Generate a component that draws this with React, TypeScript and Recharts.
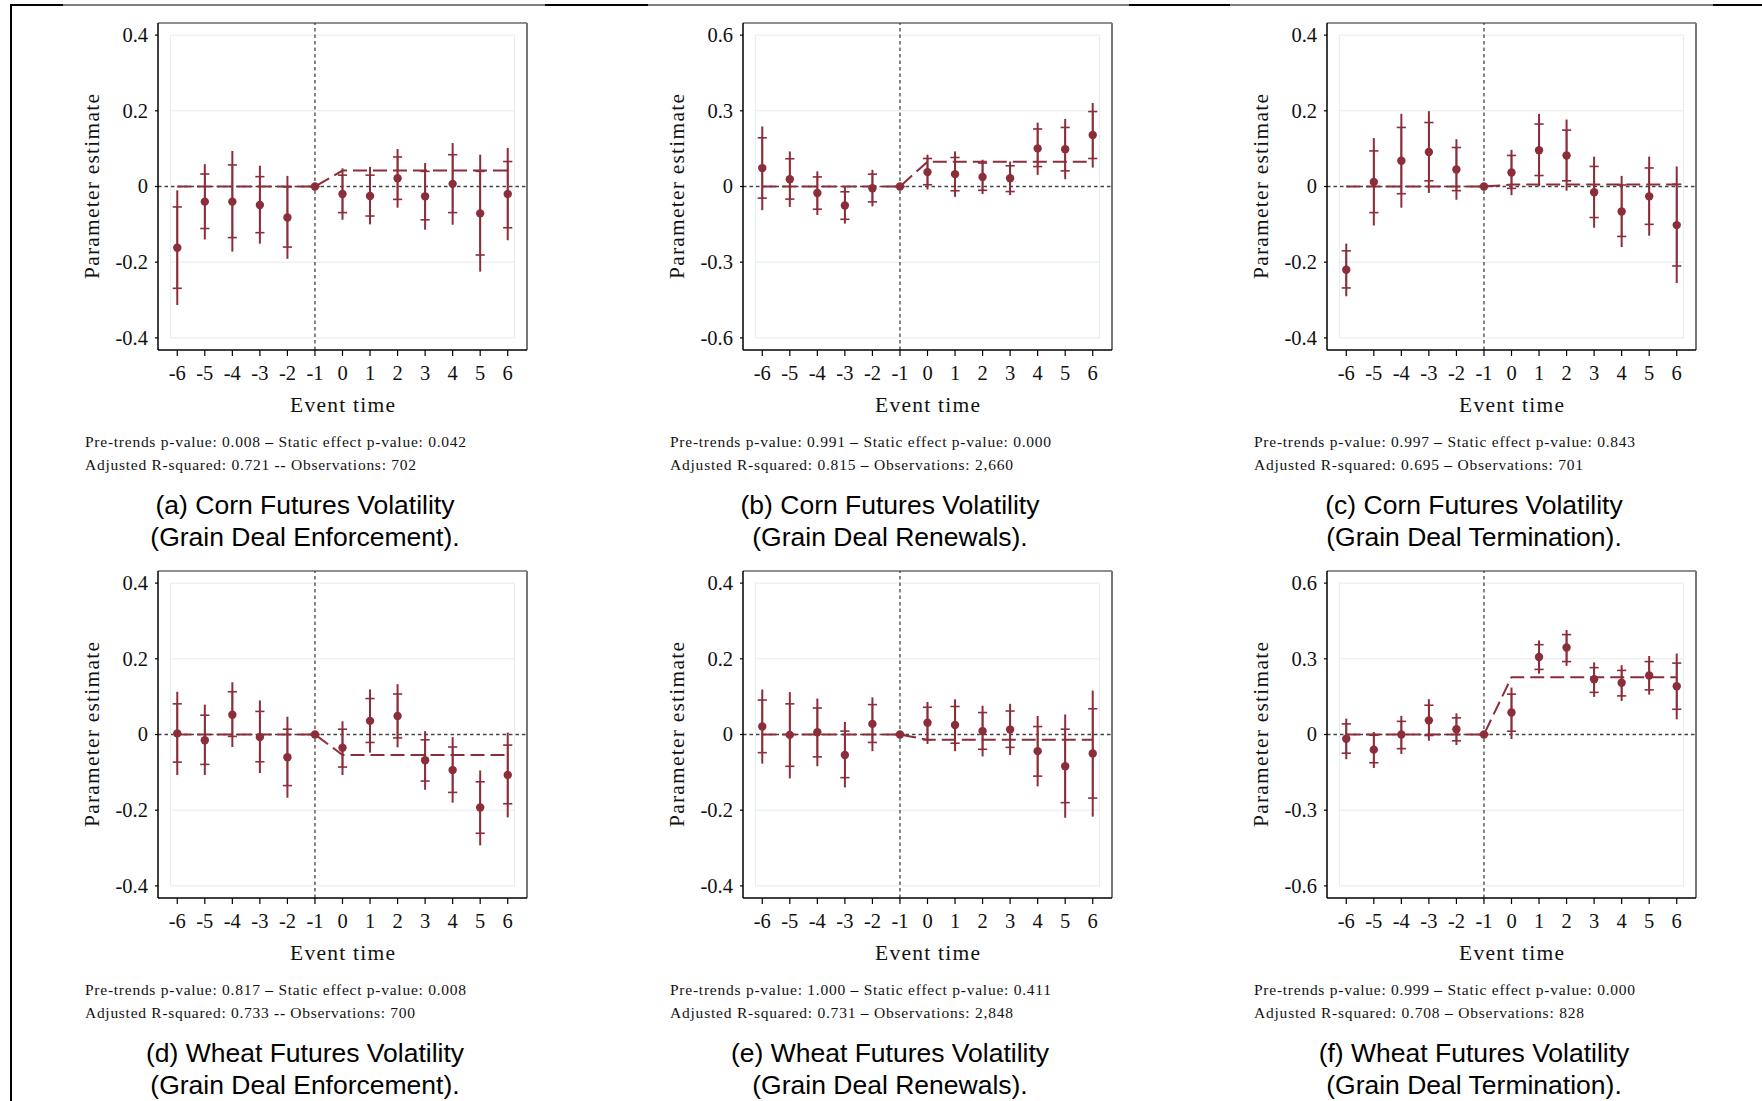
import React from 'react';
import {
  ComposedChart,
  XAxis,
  YAxis,
  Scatter,
  Line,
  ErrorBar,
  ReferenceLine,
  ReferenceArea,
  Label,
} from 'recharts';

// ---------------- DATA ----------------
const EVENT_TIME = [-6, -5, -4, -3, -2, -1, 0, 1, 2, 3, 4, 5, 6];
const TICKS_SMALL = [-0.4, -0.2, 0, 0.2, 0.4];
const TICKS_LARGE = [-0.6, -0.3, 0, 0.3, 0.6];

// (a) Corn – Enforcement
const A_EST = [-0.162, -0.04, -0.04, -0.049, -0.082, 0, -0.02, -0.025, 0.022, -0.026, 0.007, -0.071, -0.02];
const A_LO95 = [-0.313, -0.14, -0.172, -0.151, -0.191, 0, -0.088, -0.1, -0.056, -0.114, -0.101, -0.225, -0.142];
const A_HI95 = [-0.01, 0.059, 0.094, 0.055, 0.028, 0, 0.048, 0.052, 0.099, 0.062, 0.115, 0.084, 0.102];
const A_LO90 = [-0.269, -0.111, -0.135, -0.122, -0.16, 0, -0.069, -0.078, -0.034, -0.088, -0.069, -0.181, -0.109];
const A_HI90 = [-0.054, 0.033, 0.057, 0.026, -0.001, 0, 0.03, 0.03, 0.078, 0.04, 0.084, 0.04, 0.066];
const A_STATIC = 0.042;

// (b) Corn – Renewals
const B_EST = [0.073, 0.029, -0.026, -0.075, -0.007, 0, 0.057, 0.049, 0.038, 0.033, 0.151, 0.148, 0.204];
const B_LO95 = [-0.094, -0.081, -0.113, -0.147, -0.079, 0, -0.012, -0.041, -0.03, -0.034, 0.046, 0.029, 0.075];
const B_HI95 = [0.238, 0.139, 0.06, -0.001, 0.066, 0, 0.126, 0.139, 0.106, 0.099, 0.253, 0.268, 0.331];
const B_LO90 = [-0.046, -0.05, -0.09, -0.13, -0.061, 0, 0.007, -0.017, -0.015, -0.02, 0.079, 0.062, 0.111];
const B_HI90 = [0.193, 0.11, 0.038, -0.021, 0.049, 0, 0.111, 0.115, 0.093, 0.082, 0.228, 0.234, 0.297];
const B_STATIC = 0.098;

// (c) Corn – Termination
const C_EST = [-0.22, 0.012, 0.068, 0.091, 0.045, 0, 0.037, 0.096, 0.082, -0.015, -0.066, -0.026, -0.102];
const C_LO95 = [-0.29, -0.103, -0.056, -0.017, -0.035, 0, -0.023, 0.001, -0.011, -0.109, -0.16, -0.13, -0.255];
const C_HI95 = [-0.151, 0.128, 0.192, 0.199, 0.125, 0, 0.097, 0.192, 0.177, 0.079, 0.028, 0.079, 0.053];
const C_LO90 = [-0.268, -0.069, -0.019, 0.015, -0.011, 0, -0.005, 0.029, 0.015, -0.082, -0.132, -0.1, -0.21];
const C_HI90 = [-0.17, 0.094, 0.156, 0.169, 0.103, 0, 0.082, 0.165, 0.149, 0.053, 0.004, 0.049, 0.006];
const C_STATIC = 0.005;

// (d) Wheat – Enforcement
const D_EST = [0.003, -0.015, 0.052, -0.007, -0.06, 0, -0.035, 0.036, 0.049, -0.068, -0.094, -0.193, -0.107];
const D_LO95 = [-0.107, -0.107, -0.033, -0.102, -0.167, 0, -0.107, -0.048, -0.034, -0.146, -0.18, -0.293, -0.219];
const D_HI95 = [0.113, 0.079, 0.138, 0.09, 0.047, 0, 0.035, 0.119, 0.133, 0.009, -0.007, -0.095, 0.005];
const D_LO90 = [-0.073, -0.079, -0.005, -0.072, -0.135, 0, -0.086, -0.021, -0.009, -0.123, -0.153, -0.261, -0.183];
const D_HI90 = [0.081, 0.051, 0.113, 0.061, 0.014, 0, 0.014, 0.095, 0.107, -0.014, -0.033, -0.125, -0.028];
const D_STATIC = -0.054;

// (e) Wheat – Renewals
const E_EST = [0.021, -0.001, 0.006, -0.054, 0.028, 0, 0.031, 0.025, 0.009, 0.013, -0.044, -0.084, -0.05];
const E_LO95 = [-0.077, -0.116, -0.084, -0.14, -0.044, 0, -0.025, -0.044, -0.058, -0.054, -0.137, -0.22, -0.217];
const E_HI95 = [0.119, 0.112, 0.095, 0.033, 0.098, 0, 0.086, 0.093, 0.076, 0.081, 0.049, 0.053, 0.116];
const E_LO90 = [-0.048, -0.084, -0.059, -0.114, -0.021, 0, -0.014, -0.023, -0.039, -0.034, -0.11, -0.18, -0.168];
const E_HI90 = [0.091, 0.081, 0.07, 0.009, 0.079, 0, 0.072, 0.074, 0.058, 0.062, 0.021, 0.014, 0.068];
const E_STATIC = -0.014;

// (f) Wheat – Termination
const F_EST = [-0.017, -0.06, 0.0, 0.056, 0.021, 0, 0.087, 0.307, 0.345, 0.219, 0.205, 0.234, 0.191];
const F_LO95 = [-0.098, -0.133, -0.077, -0.025, -0.042, 0, -0.018, 0.241, 0.272, 0.149, 0.133, 0.158, 0.06];
const F_HI95 = [0.063, 0.01, 0.074, 0.14, 0.084, 0, 0.186, 0.373, 0.414, 0.286, 0.275, 0.311, 0.321];
const F_LO90 = [-0.074, -0.112, -0.056, -0.004, -0.025, 0, 0.013, 0.258, 0.289, 0.167, 0.153, 0.177, 0.1];
const F_HI90 = [0.042, -0.003, 0.052, 0.116, 0.066, 0, 0.16, 0.356, 0.396, 0.265, 0.254, 0.289, 0.283];
const F_STATIC = 0.227;

// notes: [left part, separator, right part] for each of the two lines
const NOTES_A = [['Pre-trends p-value: 0.008', '\u2013', 'Static effect p-value: 0.042'], ['Adjusted R-squared: 0.721', '--', 'Observations: 702']];
const NOTES_B = [['Pre-trends p-value: 0.991', '\u2013', 'Static effect p-value: 0.000'], ['Adjusted R-squared: 0.815', '\u2013', 'Observations: 2,660']];
const NOTES_C = [['Pre-trends p-value: 0.997', '\u2013', 'Static effect p-value: 0.843'], ['Adjusted R-squared: 0.695', '\u2013', 'Observations: 701']];
const NOTES_D = [['Pre-trends p-value: 0.817', '\u2013', 'Static effect p-value: 0.008'], ['Adjusted R-squared: 0.733', '--', 'Observations: 700']];
const NOTES_E = [['Pre-trends p-value: 1.000', '\u2013', 'Static effect p-value: 0.411'], ['Adjusted R-squared: 0.731', '\u2013', 'Observations: 2,848']];
const NOTES_F = [['Pre-trends p-value: 0.999', '\u2013', 'Static effect p-value: 0.000'], ['Adjusted R-squared: 0.708', '\u2013', 'Observations: 828']];

const CAPTION_A = ['(a) Corn Futures Volatility', '(Grain Deal Enforcement).'];
const CAPTION_B = ['(b) Corn Futures Volatility', '(Grain Deal Renewals).'];
const CAPTION_C = ['(c) Corn Futures Volatility', '(Grain Deal Termination).'];
const CAPTION_D = ['(d) Wheat Futures Volatility', '(Grain Deal Enforcement).'];
const CAPTION_E = ['(e) Wheat Futures Volatility', '(Grain Deal Renewals).'];
const CAPTION_F = ['(f) Wheat Futures Volatility', '(Grain Deal Termination).'];

// ---------------- STYLE / LAYOUT ----------------
const MAROON = '#8b2e3a';
const GRID = '#e3ecee';
const SERIF = '"Liberation Serif", "Times New Roman", serif';
const SANS = '"Liberation Sans", Arial, sans-serif';
const PLOT_W = 369;
const PLOT_H = 327;
const Y_AXIS_W = 80;
const X_AXIS_H = 70;
const M_TOP = 10;
const M_RIGHT = 10;
const COL_LEFT = [158, 743, 1327];
const ROW_TOP = [23, 571];

function buildRows(est: number[], lo95: number[], hi95: number[], lo90: number[], hi90: number[], stat: number) {
  return EVENT_TIME.map((x, i) => ({
    x,
    est: est[i],
    e95: [est[i] - lo95[i], hi95[i] - est[i]],
    e90: [est[i] - lo90[i], hi90[i] - est[i]],
    fit: x < 0 ? 0 : stat,
  }));
}

const PANELS = [
  { rows: buildRows(A_EST, A_LO95, A_HI95, A_LO90, A_HI90, A_STATIC), big: false, notes: NOTES_A, caption: CAPTION_A, col: 0, row: 0, w2: 331 },
  { rows: buildRows(B_EST, B_LO95, B_HI95, B_LO90, B_HI90, B_STATIC), big: true, notes: NOTES_B, caption: CAPTION_B, col: 1, row: 0, w2: 343 },
  { rows: buildRows(C_EST, C_LO95, C_HI95, C_LO90, C_HI90, C_STATIC), big: false, notes: NOTES_C, caption: CAPTION_C, col: 2, row: 0, w2: 329 },
  { rows: buildRows(D_EST, D_LO95, D_HI95, D_LO90, D_HI90, D_STATIC), big: false, notes: NOTES_D, caption: CAPTION_D, col: 0, row: 1, w2: 330 },
  { rows: buildRows(E_EST, E_LO95, E_HI95, E_LO90, E_HI90, E_STATIC), big: false, notes: NOTES_E, caption: CAPTION_E, col: 1, row: 1, w2: 343 },
  { rows: buildRows(F_EST, F_LO95, F_HI95, F_LO90, F_HI90, F_STATIC), big: true, notes: NOTES_F, caption: CAPTION_F, col: 2, row: 1, w2: 330 },
];

const fmtY = (v: number) => (v === 0 ? '0' : String(v));

const XTick = (props: any) => {
  const { x, y, payload } = props;
  return (
    <text x={x} y={y + 21.5} textAnchor="middle" fontFamily={SERIF} fontSize={20.5} fill="#111">
      {String(payload.value)}
    </text>
  );
};

const YTick = (props: any) => {
  const { x, y, payload } = props;
  return (
    <text x={x - 5} y={y + 6.9} textAnchor="end" fontFamily={SERIF} fontSize={20.5} fill="#111">
      {fmtY(payload.value)}
    </text>
  );
};

const XTitle = (props: any) => {
  const vb = props.viewBox || {};
  return (
    <text x={vb.x + vb.width / 2} y={vb.y + 61.5} textAnchor="middle" fontFamily={SERIF} fontSize={21.5} fill="#111" textLength={105} lengthAdjust="spacing">
      Event time
    </text>
  );
};

const YTitle = (props: any) => {
  const vb = props.viewBox || {};
  const cx = vb.x + 21.3;
  const cy = vb.y + vb.height / 2;
  return (
    <text x={cx} y={cy} transform={`rotate(-90, ${cx}, ${cy})`} textAnchor="middle" fontFamily={SERIF} fontSize={21.5} fill="#111" textLength={185} lengthAdjust="spacing">
      Parameter estimate
    </text>
  );
};

const Dot = (props: any) => <circle cx={props.cx} cy={props.cy} r={4.2} fill={MAROON} />;

function Panel({ p }: { p: any }) {
  const lim = p.big ? 0.6 : 0.4;
  const mid = p.big ? 0.3 : 0.2;
  const ymax = lim * 1.08;
  const left = COL_LEFT[p.col];
  const top = ROW_TOP[p.row];
  return (
    <div style={{ position: 'absolute', left: left - Y_AXIS_W, top: top - M_TOP }}>
      <ComposedChart
        width={Y_AXIS_W + PLOT_W + M_RIGHT}
        height={M_TOP + PLOT_H + X_AXIS_H}
        data={p.rows}
        margin={{ top: M_TOP, right: M_RIGHT, bottom: 0, left: 0 }}
      >
        <XAxis
          type="number"
          dataKey="x"
          domain={[-6.7, 6.7]}
          ticks={EVENT_TIME}
          interval={0}
          allowDataOverflow
          height={X_AXIS_H}
          tickSize={6}
          tickMargin={2}
          tick={XTick}
          axisLine={{ stroke: '#000', strokeWidth: 1.5 }}
          tickLine={{ stroke: '#000', strokeWidth: 1.2 }}
        >
          <Label content={XTitle} />
        </XAxis>
        <YAxis
          type="number"
          domain={[-ymax, ymax]}
          ticks={p.big ? TICKS_LARGE : TICKS_SMALL}
          interval={0}
          allowDataOverflow
          width={Y_AXIS_W}
          tickSize={3}
          tickMargin={2}
          tick={YTick}
          axisLine={{ stroke: '#000', strokeWidth: 1.5 }}
          tickLine={{ stroke: '#000', strokeWidth: 1.2 }}
        >
          <Label content={YTitle} />
        </YAxis>
        <ReferenceArea x1={-6.25} x2={6.25} y1={-lim} y2={lim} fill="none" fillOpacity={0} stroke={GRID} strokeWidth={1} />
        <ReferenceLine segment={[{ x: -6.25, y: mid }, { x: 6.25, y: mid }]} stroke={GRID} strokeWidth={1} />
        <ReferenceLine segment={[{ x: -6.25, y: -mid }, { x: 6.25, y: -mid }]} stroke={GRID} strokeWidth={1} />
        <ReferenceLine y={0} stroke="#444" strokeWidth={1.3} strokeDasharray="3.5 3" />
        <ReferenceLine x={-1} stroke="#444" strokeWidth={1.3} strokeDasharray="3.5 3" />
        <ReferenceLine y={ymax} stroke="#222" strokeWidth={1.2} />
        <ReferenceLine x={6.7} stroke="#777" strokeWidth={2} />
        <Line
          type="linear"
          dataKey="fit"
          stroke={MAROON}
          strokeWidth={2}
          strokeDasharray="14 6"
          dot={false}
          activeDot={false}
          isAnimationActive={false}
        />
        <Scatter dataKey="est" fill={MAROON} shape={Dot} isAnimationActive={false}>
          <ErrorBar dataKey="e95" direction="y" width={0} stroke={MAROON} strokeWidth={2} />
          <ErrorBar dataKey="e90" direction="y" width={4.6} stroke={MAROON} strokeWidth={1.6} />
        </Scatter>
      </ComposedChart>
    </div>
  );
}

function NoteLine({ x, y, parts, len }: { x: number; y: number; parts: string[]; len: number }) {
  return (
    <text x={x} y={y} fontFamily={SERIF} fontSize={15.5} fill="#111" textLength={len} lengthAdjust="spacing">
      {parts[0] + ' '}
      <tspan fontWeight="bold">{parts[1]}</tspan>
      {' ' + parts[2]}
    </text>
  );
}

function Texts() {
  return (
    <svg width={1762} height={1101} style={{ position: 'absolute', left: 0, top: 0, pointerEvents: 'none' }}>
      {/* page border decorations */}
      <line x1={11} y1={5} x2={1762} y2={5} stroke="#000" strokeWidth={1} />
      <line x1={10} y1={5} x2={63} y2={5} stroke="#000" strokeWidth={2} />
      <line x1={545} y1={5} x2={648} y2={5} stroke="#000" strokeWidth={2} />
      <line x1={1129} y1={5} x2={1230} y2={5} stroke="#000" strokeWidth={2} />
      <line x1={1713} y1={5} x2={1762} y2={5} stroke="#000" strokeWidth={2} />
      <line x1={11} y1={4} x2={11} y2={1101} stroke="#000" strokeWidth={2} />
      {PANELS.map((p, i) => {
        const left = COL_LEFT[p.col];
        const top = ROW_TOP[p.row];
        return (
          <g key={i}>
            <NoteLine x={left - 73} y={top + 424} parts={p.notes[0]} len={381} />
            <NoteLine x={left - 73} y={top + 446.5} parts={p.notes[1]} len={p.w2} />
            <text x={left + 147} y={top + 491} textAnchor="middle" fontFamily={SANS} fontSize={26.5} fill="#000">
              {p.caption[0]}
            </text>
            <text x={left + 147} y={top + 523} textAnchor="middle" fontFamily={SANS} fontSize={26.5} fill="#000">
              {p.caption[1]}
            </text>
          </g>
        );
      })}
    </svg>
  );
}

export default function App() {
  return (
    <div style={{ position: 'absolute', left: 0, top: 0, width: 1762, height: 1101, background: '#fff', overflow: 'hidden' }}>
      {PANELS.map((p, i) => (
        <Panel key={i} p={p} />
      ))}
      <Texts />
    </div>
  );
}
